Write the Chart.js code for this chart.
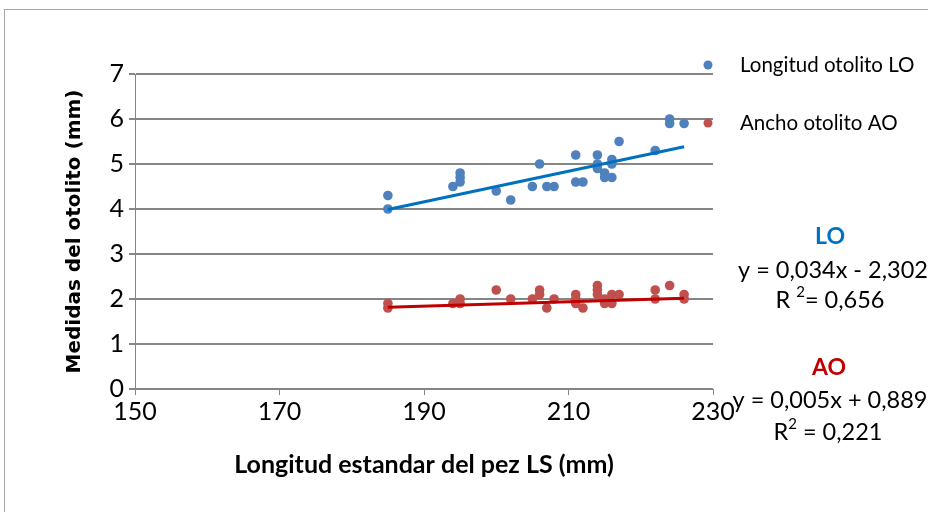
<!DOCTYPE html>
<html>
<head>
<meta charset="utf-8">
<script src="https://cdn.jsdelivr.net/npm/chart.js@4"></script>
<style>
  html, body { margin: 0; padding: 0; background: #fff; }
  #marco { position: absolute; left: 4px; top: 9px; width: 940px; height: 520px;
           border-left: 1px solid #a6a6a6; border-top: 1px solid #a6a6a6; }
  #caja { position: absolute; left: 0; top: 0; width: 928px; height: 512px; }
</style>
</head>
<body>
<div id="marco"></div>
<div id="caja"><canvas id="grafico" width="928" height="512"></canvas></div>
<script>
// Longitud estandar (LS) y longitud del otolito (LO)
const lsLO = [185, 185, 194, 195, 195, 195, 200, 202, 205, 206, 207, 208, 211, 211, 212,
              214, 214, 214, 215, 215, 216, 216, 216, 217, 222, 224, 224, 226];
const valoresLO = [4.3, 4.0, 4.5, 4.8, 4.7, 4.6, 4.4, 4.2, 4.5, 5.0, 4.5, 4.5, 5.2, 4.6, 4.6,
                   5.2, 5.0, 4.9, 4.8, 4.7, 5.1, 5.0, 4.7, 5.5, 5.3, 6.0, 5.9, 5.9];

// Longitud estandar (LS) y ancho del otolito (AO)
const lsAO = [185, 185, 194, 195, 195, 200, 202, 205, 206, 206, 207, 208, 211, 211, 211,
              212, 214, 214, 214, 215, 215, 216, 216, 217, 222, 222, 224, 226, 226];
const valoresAO = [1.9, 1.8, 1.9, 2.0, 1.9, 2.2, 2.0, 2.0, 2.2, 2.1, 1.8, 2.0, 2.1, 1.9, 2.0,
                   1.8, 2.3, 2.2, 2.1, 2.0, 1.9, 2.1, 1.9, 2.1, 2.2, 2.0, 2.3, 2.1, 2.0];

// Ecuaciones de las lineas de tendencia
const pendienteLO = 0.034, interceptoLO = -2.302, r2LO = "0,656";
const pendienteAO = 0.005, interceptoAO = 0.889, r2AO = "0,221";
const rangoTendencia = [185, 226];

const ticksX = [150, 170, 190, 210, 230];
const ticksY = [0, 1, 2, 3, 4, 5, 6, 7];

const azul = "#4f81bd", rojo = "#c0504d";
const azulLinea = "#0070c0", rojoLinea = "#c00000";

const puntos = (xs, ys) => xs.map((x, i) => ({ x: x, y: ys[i] }));
const tendencia = (m, b) => rangoTendencia.map(x => ({ x: x, y: m * x + b }));

// Leyenda y ecuaciones a la derecha del grafico
const textos = {
  id: "textos",
  afterDraw(chart) {
    const c = chart.ctx;
    c.save();
    c.textBaseline = "middle";
    c.font = "20.5px Lato";
    [["Longitud otolito LO", azul, 65], ["Ancho otolito AO", rojo, 123]].forEach(([t, col, y]) => {
      c.beginPath();
      c.arc(708, y, 4.5, 0, Math.PI * 2);
      c.fillStyle = col;
      c.fill();
      c.fillStyle = "#000";
      c.textAlign = "left";
      c.fillText(t, 740, y);
    });

    c.textAlign = "center";
    c.font = "bold 23px Lato";
    c.fillStyle = azulLinea;
    c.fillText("LO", 830, 237);
    c.fillStyle = rojoLinea;
    c.fillText("AO", 829, 368);

    c.fillStyle = "#000";
    c.font = "23.5px Lato";
    c.fillText("y = 0,034x - 2,302", 833, 270);
    c.fillText("y = 0,005x + 0,889", 830, 400);

    // R cuadrado con superindice
    const r2 = (x, y, pre, post) => {
      c.font = "23.5px Lato";
      const w1 = c.measureText(pre).width;
      c.font = "15px Lato";
      const w2 = c.measureText("2").width;
      c.font = "23.5px Lato";
      const w3 = c.measureText(post).width;
      const x0 = x - (w1 + w2 + w3) / 2;
      c.textAlign = "left";
      c.fillText(pre, x0, y);
      c.font = "15px Lato";
      c.fillText("2", x0 + w1, y - 8);
      c.font = "23.5px Lato";
      c.fillText(post, x0 + w1 + w2, y);
    };
    r2(830, 300, "R ", "= " + r2LO);
    r2(828, 432, "R", " = " + r2AO);
    c.restore();
  }
};

new Chart(document.getElementById("grafico"), {
  type: "scatter",
  data: {
    datasets: [
      { label: "Longitud otolito LO", data: puntos(lsLO, valoresLO),
        backgroundColor: azul, borderColor: azul, pointRadius: 4.8, borderWidth: 0, order: 2 },
      { label: "Ancho otolito AO", data: puntos(lsAO, valoresAO),
        backgroundColor: rojo, borderColor: rojo, pointRadius: 4.8, borderWidth: 0, order: 2 },
      { type: "line", label: "Lineal LO", data: tendencia(pendienteLO, interceptoLO),
        borderColor: azulLinea, borderWidth: 3, pointRadius: 0, order: 1 },
      { type: "line", label: "Lineal AO", data: tendencia(pendienteAO, interceptoAO),
        borderColor: rojoLinea, borderWidth: 3, pointRadius: 0, order: 1 }
    ]
  },
  options: {
    responsive: false,
    animation: false,
    layout: { padding: { left: 0, top: 74, right: 215, bottom: 0 } },
    plugins: { legend: { display: false }, tooltip: { enabled: false } },
    scales: {
      x: {
        type: "linear", min: 150, max: 230,
        afterBuildTicks: s => { s.ticks = ticksX.map(v => ({ value: v })); },
        afterFit: s => { s.height = 123; },
        grid: { drawOnChartArea: false, drawTicks: true, tickLength: 6, color: "#868686", lineWidth: 1 },
        border: { display: false },
        ticks: { color: "#000", font: { family: "Lato", size: 25 }, padding: 2, maxRotation: 0 },
        title: { display: true, text: "Longitud estandar del pez LS (mm)", color: "#000",
                 font: { family: "Lato", size: 25, weight: "bold" }, padding: { top: 0, bottom: 32 } }
      },
      y: {
        min: 0, max: 7,
        afterBuildTicks: s => { s.ticks = ticksY.map(v => ({ value: v })); },
        afterFit: s => { s.width = 135; },
        grid: { color: "#868686", lineWidth: 2, tickLength: 6 },
        border: { display: true, color: "#868686", width: 1 },
        ticks: { color: "#000", font: { family: "Lato", size: 25 }, padding: 5 },
        title: { display: true, text: "Medidas del otolito (mm)", color: "#000",
                 font: { family: "DejaVu Sans", size: 20, weight: "bold" }, padding: { top: 63, bottom: 0 } }
      }
    }
  },
  plugins: [textos]
});
</script>
</body>
</html>
